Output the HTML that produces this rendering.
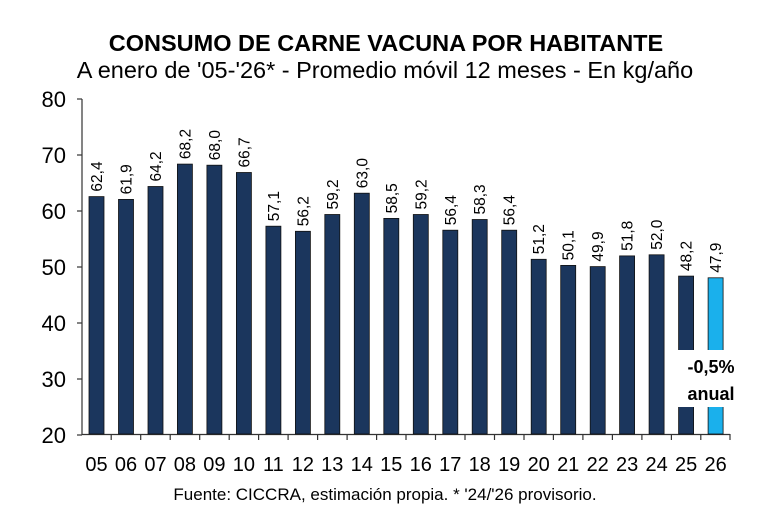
<!DOCTYPE html>
<html><head><meta charset="utf-8"><style>body{margin:0;background:#fff}</style></head><body>
<svg width="760" height="512" xmlns="http://www.w3.org/2000/svg" font-family="Liberation Sans, Arial, sans-serif">
<rect width="760" height="512" fill="#fff"/>
<text x="386" y="51" text-anchor="middle" font-size="23.5" font-weight="bold">CONSUMO DE CARNE VACUNA POR HABITANTE</text>
<text x="385" y="78" text-anchor="middle" font-size="23.5">A enero de '05-'26* - Promedio móvil 12 meses -  En kg/año</text>
<text x="385" y="500" text-anchor="middle" font-size="17">Fuente: CICCRA, estimación propia. * '24/'26 provisorio.</text>
<g font-size="22" text-anchor="end">
<text x="66" y="107">80</text><text x="66" y="163">70</text><text x="66" y="219">60</text>
<text x="66" y="275">50</text><text x="66" y="331">40</text><text x="66" y="387">30</text><text x="66" y="443">20</text>
</g>
<g stroke="#333" stroke-width="1.2">
<line x1="82" y1="99" x2="82" y2="435"/><line x1="82" y1="434.5" x2="730" y2="434.5"/>
<line x1="77" y1="99" x2="82" y2="99"/><line x1="77" y1="155" x2="82" y2="155"/><line x1="77" y1="211" x2="82" y2="211"/>
<line x1="77" y1="267" x2="82" y2="267"/><line x1="77" y1="323" x2="82" y2="323"/><line x1="77" y1="379" x2="82" y2="379"/><line x1="77" y1="435" x2="82" y2="435"/>
</g>
<g stroke="#111" stroke-width="0.8" fill="#1b365d">
<rect x="89" y="196.6" width="15" height="237.4"/>
<rect x="118.5" y="199.4" width="15" height="234.6"/>
<rect x="148" y="186.5" width="15" height="247.5"/>
<rect x="177.4" y="164.1" width="15" height="269.9"/>
<rect x="206.9" y="165.2" width="15" height="268.8"/>
<rect x="236.4" y="172.5" width="15" height="261.5"/>
<rect x="265.9" y="226.2" width="15" height="207.8"/>
<rect x="295.4" y="231.3" width="15" height="202.7"/>
<rect x="324.8" y="214.5" width="15" height="219.5"/>
<rect x="354.3" y="193.2" width="15" height="240.8"/>
<rect x="383.8" y="218.4" width="15" height="215.6"/>
<rect x="413.3" y="214.5" width="15" height="219.5"/>
<rect x="442.8" y="230.2" width="15" height="203.8"/>
<rect x="472.2" y="219.5" width="15" height="214.5"/>
<rect x="501.7" y="230.2" width="15" height="203.8"/>
<rect x="531.2" y="259.3" width="15" height="174.7"/>
<rect x="560.7" y="265.4" width="15" height="168.6"/>
<rect x="590.2" y="266.6" width="15" height="167.4"/>
<rect x="619.6" y="255.9" width="15" height="178.1"/>
<rect x="649.1" y="254.8" width="15" height="179.2"/>
<rect x="678.6" y="276.1" width="15" height="157.9"/>
<rect x="708.1" y="277.8" width="15" height="156.2" fill="#1ab0ec"/>
</g>
<g font-size="15.5">
<text transform="translate(102,191.6) rotate(-90)">62,4</text>
<text transform="translate(131.5,194.4) rotate(-90)">61,9</text>
<text transform="translate(161,181.5) rotate(-90)">64,2</text>
<text transform="translate(190.4,159.1) rotate(-90)">68,2</text>
<text transform="translate(219.9,160.2) rotate(-90)">68,0</text>
<text transform="translate(249.4,167.5) rotate(-90)">66,7</text>
<text transform="translate(278.9,221.2) rotate(-90)">57,1</text>
<text transform="translate(308.4,226.3) rotate(-90)">56,2</text>
<text transform="translate(337.8,209.5) rotate(-90)">59,2</text>
<text transform="translate(367.3,188.2) rotate(-90)">63,0</text>
<text transform="translate(396.8,213.4) rotate(-90)">58,5</text>
<text transform="translate(426.3,209.5) rotate(-90)">59,2</text>
<text transform="translate(455.8,225.2) rotate(-90)">56,4</text>
<text transform="translate(485.2,214.5) rotate(-90)">58,3</text>
<text transform="translate(514.7,225.2) rotate(-90)">56,4</text>
<text transform="translate(544.2,254.3) rotate(-90)">51,2</text>
<text transform="translate(573.7,260.4) rotate(-90)">50,1</text>
<text transform="translate(603.2,261.6) rotate(-90)">49,9</text>
<text transform="translate(632.6,250.9) rotate(-90)">51,8</text>
<text transform="translate(662.1,249.8) rotate(-90)">52,0</text>
<text transform="translate(691.6,271.1) rotate(-90)">48,2</text>
<text transform="translate(721.1,272.8) rotate(-90)">47,9</text>
</g>
<g font-size="20" text-anchor="middle">
<text x="96.5" y="471">05</text><text x="126" y="471">06</text><text x="155.5" y="471">07</text><text x="184.9" y="471">08</text>
<text x="214.4" y="471">09</text><text x="243.9" y="471">10</text><text x="273.4" y="471">11</text><text x="302.9" y="471">12</text>
<text x="332.3" y="471">13</text><text x="361.8" y="471">14</text><text x="391.3" y="471">15</text><text x="420.8" y="471">16</text>
<text x="450.3" y="471">17</text><text x="479.7" y="471">18</text><text x="509.2" y="471">19</text><text x="538.7" y="471">20</text>
<text x="568.2" y="471">21</text><text x="597.7" y="471">22</text><text x="627.1" y="471">23</text><text x="656.6" y="471">24</text>
<text x="686.1" y="471">25</text><text x="715.6" y="471">26</text>
</g>
<g stroke="#333" stroke-width="1.2">
<line x1="111.2" y1="434" x2="111.2" y2="440"/><line x1="140.7" y1="434" x2="140.7" y2="440"/><line x1="170.2" y1="434" x2="170.2" y2="440"/>
<line x1="199.7" y1="434" x2="199.7" y2="440"/><line x1="229.2" y1="434" x2="229.2" y2="440"/><line x1="258.6" y1="434" x2="258.6" y2="440"/>
<line x1="288.1" y1="434" x2="288.1" y2="440"/><line x1="317.6" y1="434" x2="317.6" y2="440"/><line x1="347.1" y1="434" x2="347.1" y2="440"/>
<line x1="376.6" y1="434" x2="376.6" y2="440"/><line x1="406" y1="434" x2="406" y2="440"/><line x1="435.5" y1="434" x2="435.5" y2="440"/>
<line x1="465" y1="434" x2="465" y2="440"/><line x1="494.5" y1="434" x2="494.5" y2="440"/><line x1="524" y1="434" x2="524" y2="440"/>
<line x1="553.4" y1="434" x2="553.4" y2="440"/><line x1="582.9" y1="434" x2="582.9" y2="440"/><line x1="612.4" y1="434" x2="612.4" y2="440"/>
<line x1="641.9" y1="434" x2="641.9" y2="440"/><line x1="671.4" y1="434" x2="671.4" y2="440"/><line x1="700.8" y1="434" x2="700.8" y2="440"/>
<line x1="730" y1="434" x2="730" y2="440"/>
</g>
<rect x="675" y="350" width="60" height="57" fill="#fff"/>
<text x="711" y="373" text-anchor="middle" font-size="18" font-weight="bold">-0,5%</text>
<text x="711" y="400" text-anchor="middle" font-size="18" font-weight="bold">anual</text>
</svg>
</body></html>
